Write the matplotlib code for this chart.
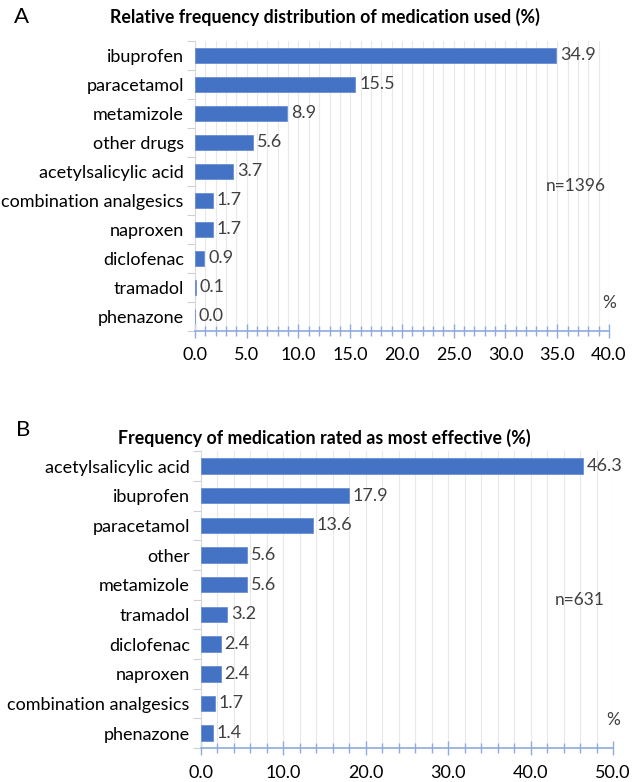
import numpy as np
import matplotlib.pyplot as plt
from matplotlib.ticker import MultipleLocator, FixedLocator

plt.rcParams['font.family'] = ['Lato', 'DejaVu Sans']

# panel A data
drugs_a = ['ibuprofen', 'paracetamol', 'metamizole', 'other drugs',
           'acetylsalicylic acid', 'combination analgesics', 'naproxen',
           'diclofenac', 'tramadol', 'phenazone']
vals_a = [34.9, 15.5, 8.9, 5.6, 3.7, 1.7, 1.7, 0.9, 0.1, 0.0]

# panel B data
drugs_b = ['acetylsalicylic acid', 'ibuprofen', 'paracetamol', 'other',
           'metamizole', 'tramadol', 'diclofenac', 'naproxen',
           'combination analgesics', 'phenazone']
vals_b = [46.3, 17.9, 13.6, 5.6, 5.6, 3.2, 2.4, 2.4, 1.7, 1.4]

bar_col = '#4472C4'
axis_col = '#8FAADC'
txt_col = '#404040'
fs = 13

fig = plt.figure(figsize=(6.33, 7.82), dpi=100)


def panel(rect, names, vals, xmax, major, minor, title, title_y, n_txt, letter, letter_pos):
    ax = fig.add_axes(rect)
    y = np.arange(len(names))
    ax.barh(y, vals, height=0.52, color=bar_col, edgecolor='#6A8FD4', linewidth=0.6, zorder=3)
    ax.set_ylim(len(names) - 0.5, -0.5)
    ax.set_xlim(0, xmax)
    ax.set_yticks(y)
    ax.set_yticklabels(names, fontsize=fs, color='black')
    ax.tick_params(axis='y', length=0, pad=8)
    ax.yaxis.set_minor_locator(FixedLocator(np.arange(-0.5, len(names), 1.0)))
    ax.tick_params(axis='y', which='minor', length=6, color='#D0D0D0', width=0.8)

    ax.xaxis.set_major_locator(MultipleLocator(major))
    ax.xaxis.set_minor_locator(MultipleLocator(minor))
    ax.set_xticklabels(['%.1f' % t for t in ax.get_xticks()], fontsize=fs, color='black')
    ax.tick_params(axis='x', which='major', direction='inout', length=10, color=axis_col, width=1, pad=7)
    ax.tick_params(axis='x', which='minor', direction='inout', length=7, color=axis_col, width=1)
    ax.grid(axis='x', which='both', color='#E8E8E8', linewidth=0.8, zorder=0)

    for s in ['top', 'right']:
        ax.spines[s].set_visible(False)
    ax.spines['left'].set_color('#D9D9D9')
    ax.spines['bottom'].set_color(axis_col)
    ax.spines['bottom'].set_linewidth(1.2)

    for yi, v in zip(y, vals):
        ax.text(v + xmax * 0.009, yi, '%.1f' % v, va='center', ha='left',
                fontsize=fs, color=txt_col, zorder=4)

    fig.text(0.513, title_y, title, fontsize=12.8, fontweight='bold', ha='center', va='center')
    ax.text(0.92, 0.5, n_txt, transform=ax.transAxes, ha='center', va='center',
            fontsize=fs - 0.5, color=txt_col)
    ax.text(1.0, 0.095, '%', transform=ax.transAxes, ha='center', va='center',
            fontsize=fs - 0.5, color=txt_col)
    fig.text(letter_pos[0], letter_pos[1], letter, fontsize=16, ha='left', va='center')
    return ax


panel([0.308, 0.577, 0.654, 0.371], drugs_a, vals_a, 40, 5, 1,
      'Relative frequency distribution of medication used (%)', 0.978, 'n=1396', 'A', (0.022, 0.978))
panel([0.3175, 0.0435, 0.651, 0.3795], drugs_b, vals_b, 50, 10, 2,
      'Frequency of medication rated as most effective (%)', 0.44, 'n=631', 'B', (0.025, 0.45))

fig.savefig('out.png', dpi=100)
